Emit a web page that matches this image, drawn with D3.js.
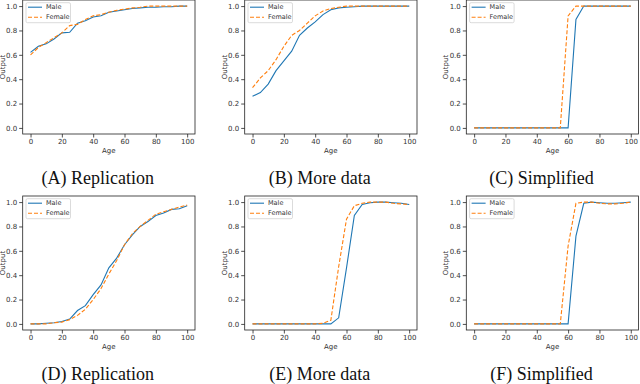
<!DOCTYPE html>
<html>
<head>
<meta charset="utf-8">
<script src="https://cdn.jsdelivr.net/npm/d3@7"></script>
<style>
  body { margin: 0; background: #fff; }
  svg { display: block; }
  .tick text { font-family: "DejaVu Sans", sans-serif; font-size: 7px; fill: #333; }
  .lab { font-family: "DejaVu Sans", sans-serif; font-size: 7px; fill: #333; }
  .leg { font-family: "DejaVu Sans", sans-serif; font-size: 6.5px; fill: #333; }
  .cap { font-family: "Liberation Serif", serif; font-size: 18px; fill: #111; }
</style>
</head>
<body>
<div class="chart"></div>
<script>
// ages sampled every 5 years
let ages = [0,5,10,15,20,25,30,35,40,45,50,55,60,65,70,75,80,85,90,95,100];
let xTicks = [0,20,40,60,80,100];
let yTicks = [0,0.2,0.4,0.6,0.8,1.0];
let seriesNames = ['Male','Female'];
let captions = ['(A) Replication','(B) More data','(C) Simplified','(D) Replication','(E) More data','(F) Simplified'];

let maleA   = [0.62,0.67,0.69,0.73,0.78,0.785,0.86,0.88,0.91,0.92,0.95,0.96,0.97,0.98,0.985,0.99,0.99,0.995,0.995,1.0,1.0];
let femaleA = [0.60,0.66,0.70,0.74,0.78,0.84,0.85,0.89,0.92,0.93,0.95,0.965,0.975,0.985,0.99,1.0,1.0,1.0,1.0,1.0,1.0];
let maleB   = [0.26,0.29,0.36,0.47,0.55,0.63,0.76,0.82,0.87,0.93,0.97,0.985,0.99,0.995,1.0,1.0,1.0,1.0,1.0,1.0,1.0];
let femaleB = [0.33,0.41,0.47,0.56,0.67,0.76,0.80,0.86,0.92,0.96,0.98,0.99,1.0,1.0,1.0,1.0,1.0,1.0,1.0,1.0,1.0];
let maleC   = [0,0,0,0,0,0,0,0,0,0,0,0,0,0.89,1.0,1.0,1.0,1.0,1.0,1.0,1.0];
let femaleC = [0,0,0,0,0,0,0,0,0,0,0,0,0.92,1.0,1.0,1.0,1.0,1.0,1.0,1.0,1.0];
let maleD   = [0,0,0.005,0.01,0.02,0.04,0.11,0.15,0.24,0.32,0.46,0.54,0.65,0.73,0.80,0.84,0.89,0.91,0.94,0.945,0.97];
let femaleD = [0,0,0,0.01,0.015,0.035,0.07,0.12,0.20,0.29,0.41,0.52,0.65,0.74,0.80,0.85,0.90,0.92,0.94,0.96,0.975];
let maleE   = [0,0,0,0,0,0,0,0,0,0,0,0.05,0.46,0.89,0.98,0.995,1.0,1.0,0.995,0.99,0.98];
let femaleE = [0,0,0,0,0,0,0,0,0,0.005,0.03,0.47,0.86,0.97,0.99,1.0,1.0,1.0,0.99,0.985,0.98];
let maleF   = [0,0,0,0,0,0,0,0,0,0,0,0,0,0.72,0.99,1.0,0.995,0.99,0.99,0.995,1.0];
let femaleF = [0,0,0,0,0,0,0,0,0,0,0,0,0.64,0.99,1.0,1.0,0.99,0.985,0.985,0.99,1.0];

let panels = [
	[maleA, femaleA], [maleB, femaleB], [maleC, femaleC],
	[maleD, femaleD], [maleE, femaleE], [maleF, femaleF]
];

let colors = ['#1f77b4', '#ff7f0e'];
let dashes = [null, '4,2'];

let colLeft = [22.7, 244.7, 466.3];
let rowTop = [0, 196];
let width = 172.3;
let height = 134;

let svg = d3.select('.chart')
	.append('svg')
	.attr('width', 640)
	.attr('height', 384);

let xScale = d3.scaleLinear().domain([-5, 105]).range([0, width]);
let yScale = d3.scaleLinear().domain([-0.05, 1.05]).range([height, 0]);

let line = d3.line()
	.x((d, i) => xScale(ages[i]))
	.y(d => yScale(d));

panels.forEach(function(p, k) {
	let col = k % 3, row = Math.floor(k / 3);
	let g = svg.append('g')
		.attr('transform', 'translate(' + colLeft[col] + ',' + rowTop[row] + ')');

	let xAxis = d3.axisBottom(xScale).tickValues(xTicks).tickSizeOuter(0).tickSize(3.5).tickPadding(2);
	let yAxis = d3.axisLeft(yScale).tickValues(yTicks).tickFormat(d3.format('.1f')).tickSizeOuter(0).tickSize(3.5).tickPadding(2);

	g.append('g').attr('transform', 'translate(0,' + height + ')').call(xAxis);
	g.append('g').call(yAxis);
	g.selectAll('.domain').remove();
	g.selectAll('.tick line').attr('stroke', '#222').attr('stroke-width', 0.8);

	p.forEach(function(vals, s) {
		g.append('path')
			.datum(vals)
			.attr('d', line)
			.attr('fill', 'none')
			.attr('stroke', colors[s])
			.attr('stroke-width', 1.1)
			.attr('stroke-dasharray', dashes[s]);
	});

	g.append('rect')
		.attr('width', width)
		.attr('height', height)
		.attr('fill', 'none')
		.attr('stroke', '#222')
		.attr('stroke-width', 0.8);

	// legend
	let lg = g.append('g').attr('transform', 'translate(3.3,2.7)');
	lg.append('rect')
		.attr('width', 44.5).attr('height', 20).attr('rx', 1.5)
		.attr('fill', 'white').attr('fill-opacity', 0.8)
		.attr('stroke', '#ccc').attr('stroke-width', 0.7);
	seriesNames.forEach(function(n, s) {
		let yy = 4.5 + s * 10;
		lg.append('line')
			.attr('x1', 2).attr('x2', 16).attr('y1', yy).attr('y2', yy)
			.attr('stroke', colors[s]).attr('stroke-width', 1.1)
			.attr('stroke-dasharray', dashes[s]);
		lg.append('text').attr('class', 'leg')
			.attr('x', 20).attr('y', yy + 2.3).text(n);
	});

	g.append('text').attr('class', 'lab')
		.attr('x', width / 2).attr('y', height + 18.5)
		.attr('text-anchor', 'middle').text('Age');
	g.append('text').attr('class', 'lab')
		.attr('transform', 'translate(-18,' + (height / 2) + ') rotate(-90)')
		.attr('text-anchor', 'middle').text('Output');

	g.append('text').attr('class', 'cap')
		.attr('x', width / 2 - 11).attr('y', row === 0 ? 184 : 183.7)
		.attr('text-anchor', 'middle').text(captions[k]);
});
</script>
</body>
</html>
